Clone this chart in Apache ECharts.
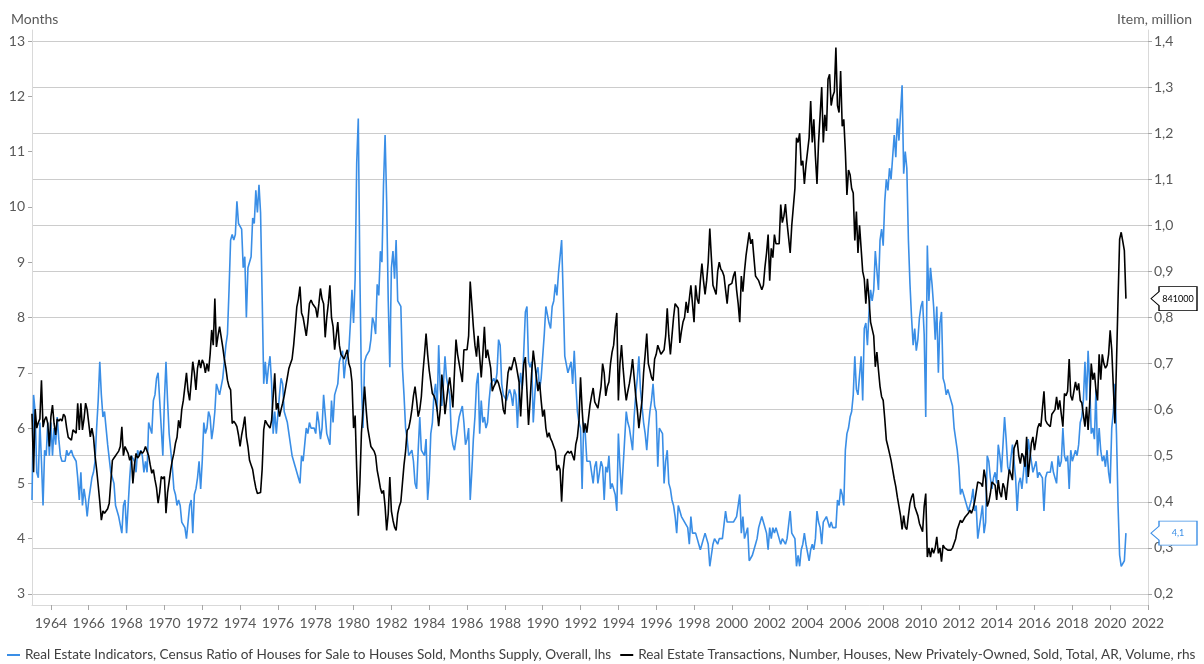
<!DOCTYPE html>
<html>
<head>
<meta charset="utf-8">
<title>New home sales and months supply</title>
<script src="https://cdn.jsdelivr.net/npm/echarts@6/dist/echarts.min.js"></script>
<style>
html, body { margin: 0; padding: 0; background: #fff; }
#chart { width: 1204px; height: 664px; }
</style>
</head>
<body>
<div id="chart"></div>
<script>
// monthly data, first point = Jan 1963
var startYear = 1963;
var supplyName = 'Real Estate Indicators, Census Ratio of Houses for Sale to Houses Sold, Months Supply, Overall, lhs';
var salesName = 'Real Estate Transactions, Number, Houses, New Privately-Owned, Sold, Total, AR, Volume, rhs';

// months supply (lhs)
var monthsSupply = [
    4.7, 6.6, 6.3, 5.2, 5.1, 6.1, 5.4, 4.6, 5.6, 5.5, 6.1, 5.5,
    6.1, 5.5, 6.0, 5.7, 6.2, 5.8, 5.5, 5.4, 5.4, 5.4, 5.6, 5.5,
    5.5, 5.6, 5.5, 5.5, 5.4, 5.1, 4.7, 5.2, 4.6, 4.9, 4.7, 4.4,
    4.7, 4.9, 5.1, 5.2, 5.4, 6.0, 6.5, 7.2, 6.6, 6.2, 6.3, 6.0,
    5.7, 5.7, 5.2, 5.1, 5.0, 4.6, 4.5, 4.4, 4.4, 4.1, 4.6, 4.7,
    4.1, 4.6, 5.1, 5.5, 5.5, 5.4, 5.2, 5.6, 5.5, 5.6, 5.5, 5.2,
    5.4, 5.2, 6.1, 6.1, 5.9, 6.5, 6.6, 6.9, 7.0, 6.5, 6.0, 5.5,
    6.5, 7.2, 6.5, 5.9, 5.6, 5.3, 4.9, 4.8, 4.6, 4.7, 4.6, 4.3,
    4.3, 4.2, 4.0, 4.3, 4.6, 4.7, 4.1, 4.8, 4.9, 5.1, 5.4, 4.9,
    5.4, 6.1, 5.9, 6.0, 6.3, 6.2, 5.8, 6.0, 6.3, 6.8, 6.8, 6.6,
    6.6, 6.9, 6.9, 7.5, 7.7, 8.5, 9.4, 9.5, 9.4, 9.5, 10.1, 9.7,
    9.7, 9.6, 8.9, 9.1, 8.0, 8.9, 8.9, 9.1, 9.8, 9.7, 10.3, 9.9,
    10.4, 9.9, 8.4, 6.8, 7.2, 6.8, 7.1, 7.3, 6.8, 5.9, 6.3, 5.9,
    5.9, 6.6, 6.9, 6.8, 6.3, 6.2, 6.1, 5.9, 5.7, 5.5, 5.4, 5.3,
    5.2, 5.1, 5.0, 5.5, 5.4, 5.7, 6.0, 5.9, 6.1, 6.0, 6.0, 6.0,
    5.9, 6.3, 6.1, 5.8, 6.0, 6.6, 6.6, 5.9, 5.8, 5.7, 6.5, 6.1,
    6.6, 6.7, 6.8, 7.2, 7.3, 7.4, 6.9, 7.2, 7.3, 7.4, 7.9, 8.5,
    7.9, 8.7, 10.8, 11.6, 8.8, 6.8, 6.0, 7.2, 7.3, 7.3, 7.4, 7.6,
    8.0, 7.9, 7.7, 8.6, 8.4, 9.2, 9.0, 10.4, 11.3, 10.1, 8.3, 7.1,
    8.9, 9.2, 8.7, 9.4, 8.3, 8.3, 8.2, 7.1, 6.6, 6.0, 5.8, 5.5,
    5.5, 5.6, 5.4, 5.0, 4.9, 5.6, 6.2, 5.6, 5.6, 5.5, 5.8, 4.7,
    5.1, 5.9, 6.1, 6.6, 6.8, 6.3, 7.5, 6.7, 6.4, 6.8, 7.3, 6.9,
    6.9, 6.6, 5.9, 5.7, 5.6, 5.8, 6.0, 6.2, 6.2, 6.4, 6.1, 5.7,
    5.8, 6.0, 4.7, 5.2, 5.8, 6.2, 6.8, 7.0, 5.9, 6.5, 6.1, 6.2,
    6.0, 6.1, 6.5, 6.8, 6.8, 6.9, 6.8, 7.0, 7.6, 7.5, 6.8, 6.6,
    6.6, 6.5, 6.6, 6.7, 6.6, 6.4, 6.7, 6.6, 6.0, 6.7, 7.0, 6.7,
    6.7, 8.1, 8.2, 7.2, 7.1, 7.2, 6.1, 6.6, 7.0, 7.1, 6.7, 6.9,
    7.3, 7.7, 8.2, 8.2, 7.9, 7.8, 8.2, 8.3, 8.6, 8.4, 8.8, 8.8,
    9.4, 8.4, 7.3, 7.3, 7.0, 7.0, 7.2, 6.8, 7.4, 6.8, 6.3, 6.1,
    6.0, 4.9, 6.1, 5.9, 5.4, 5.4, 5.4, 5.2, 5.0, 5.3, 5.4, 5.0,
    5.2, 5.4, 5.3, 4.7, 5.3, 5.2, 5.5, 4.9, 5.0, 5.0, 4.8, 4.5,
    5.9, 5.3, 4.8, 5.3, 5.8, 6.3, 6.1, 6.0, 5.8, 5.6, 6.2, 6.6,
    6.9, 7.3, 6.7, 6.4, 6.1, 5.9, 5.6, 6.0, 6.3, 6.5, 6.8, 6.4,
    6.3, 5.3, 6.0, 6.0, 5.9, 5.0, 5.4, 5.6, 5.0, 4.9, 4.7, 4.6,
    4.4, 4.1, 4.6, 4.5, 4.4, 4.4, 4.3, 4.3, 4.2, 3.9, 4.4, 4.1,
    4.1, 4.1, 4.0, 3.9, 3.8, 3.9, 4.0, 4.1, 4.0, 3.9, 3.5, 3.7,
    3.9, 4.0, 4.0, 3.9, 4.0, 4.0, 4.0, 4.0, 4.5, 4.3, 4.3, 4.3,
    4.3, 4.3, 4.3, 4.4, 4.4, 4.8, 4.1, 4.4, 4.0, 4.1, 4.2, 3.6,
    3.6, 3.7, 3.8, 3.9, 4.0, 4.2, 4.3, 4.4, 4.3, 4.3, 4.1, 3.8,
    4.2, 4.0, 4.2, 4.1, 4.2, 4.1, 4.0, 3.9, 4.0, 4.0, 3.9, 4.0,
    4.0, 4.5, 4.1, 4.1, 4.0, 3.5, 3.7, 3.5, 3.8, 3.9, 4.1, 3.9,
    3.9, 3.6, 3.8, 3.9, 3.8, 4.0, 4.5, 4.3, 4.2, 3.9, 4.3, 4.3,
    4.4, 4.3, 4.2, 4.3, 4.2, 4.2, 4.2, 4.7, 4.6, 4.9, 4.8, 4.6,
    5.6, 5.9, 6.0, 6.2, 6.3, 6.6, 7.3, 6.7, 6.6, 6.6, 7.3, 6.5,
    7.8, 7.9, 7.5, 8.1, 8.5, 8.3, 8.5, 9.2, 9.2, 8.5, 9.4, 9.6,
    9.3, 10.1, 10.5, 10.3, 10.7, 10.5, 10.5, 11.3, 10.9, 11.6, 11.2, 11.2,
    12.2, 10.6, 11.0, 10.7, 9.4, 8.6, 8.0, 7.5, 7.8, 7.4, 7.6, 8.0,
    8.2, 8.3, 7.7, 6.2, 9.3, 8.3, 8.9, 8.6, 8.2, 7.6, 8.2, 7.0,
    7.9, 8.1, 6.9, 6.8, 6.6, 6.7, 6.7, 6.5, 6.4, 6.0, 5.8, 5.6,
    5.3, 4.8, 4.9, 4.9, 4.7, 4.7, 4.5, 4.5, 4.7, 4.9, 4.5, 4.6,
    4.0, 4.2, 4.4, 4.6, 4.1, 4.3, 5.5, 5.4, 5.1, 4.9, 5.1, 5.2,
    5.0, 5.7, 5.5, 5.2, 5.7, 6.2, 5.8, 5.3, 5.2, 5.2, 5.7, 5.4,
    5.1, 4.5, 5.0, 5.1, 4.9, 5.2, 5.5, 5.0, 5.8, 5.6, 5.4, 5.2,
    5.3, 5.4, 5.1, 5.2, 5.2, 5.1, 4.5, 5.1, 5.2, 5.2, 5.2, 5.4,
    5.2, 5.2, 5.0, 5.5, 5.3, 5.4, 6.0, 5.5, 5.4, 5.5, 4.9, 5.6,
    5.4, 5.5, 5.6, 5.5, 5.7, 6.1, 6.2, 6.5, 7.2, 6.5, 7.4, 6.8,
    5.9, 6.0, 5.8, 6.7, 5.5, 6.0, 5.6, 5.4, 5.5, 5.3, 5.6, 5.2,
    5.0, 6.0, 6.3, 6.8, 5.9, 4.6, 3.7, 3.5, 3.5, 3.6, 4.1
];

// new houses sold, annual rate, thousands (rhs, shown in millions)
var salesK = [
    591, 464, 601, 560, 572, 580, 664, 562, 578, 585, 570, 520,
    585, 610, 570, 545, 580, 575, 580, 575, 590, 585, 560, 540,
    540, 534, 556, 560, 549, 614, 556, 614, 556, 580, 614, 600,
    600, 541, 560, 541, 500, 470, 436, 400, 360, 380, 375, 380,
    385, 397, 400, 490, 495, 500, 505, 510, 520, 563, 500, 520,
    520, 505, 490, 500, 440, 480, 505, 495, 500, 510, 505, 510,
    520, 520, 500, 480, 462, 470, 448, 430, 397, 420, 455, 450,
    455, 375, 420, 444, 470, 490, 505, 527, 540, 577, 560, 600,
    620, 650, 680, 640, 620, 660, 704, 680, 643, 690, 708, 690,
    708, 700, 680, 700, 683, 720, 773, 740, 841, 736, 760, 780,
    780, 736, 710, 690, 664, 650, 643, 570, 575, 570, 563, 545,
    520, 545, 563, 585, 541, 520, 490, 480, 470, 448, 430, 418,
    415, 420, 470, 556, 577, 570, 570, 560, 577, 580, 679, 600,
    614, 585, 600, 614, 630, 650, 670, 690, 700, 710, 740, 780,
    823, 840, 867, 810, 800, 800, 760, 790, 830, 838, 830, 834,
    820, 800, 830, 863, 840, 830, 757, 800, 830, 870, 800, 780,
    730, 760, 790, 740, 720, 715, 710, 720, 730, 700, 690, 660,
    560, 587, 470, 370, 440, 550, 600, 650, 600, 560, 540, 520,
    515, 510, 500, 468, 450, 430, 418, 425, 390, 338, 374, 454,
    380, 360, 345, 338, 374, 390, 400, 440, 480, 510, 555, 560,
    577, 600, 630, 650, 620, 585, 600, 628, 680, 720, 765, 720,
    685, 660, 635, 630, 620, 600, 564, 600, 676, 640, 590, 620,
    650, 670, 640, 605, 680, 752, 720, 700, 680, 660, 730, 730,
    730, 760, 878, 830, 780, 740, 715, 760, 760, 670, 720, 780,
    712, 730, 730, 690, 640, 650, 657, 665, 657, 657, 630, 600,
    590, 640, 680, 693, 686, 690, 714, 700, 696, 660, 585, 650,
    700, 714, 640, 567, 620, 680, 728, 700, 670, 640, 660, 620,
    585, 600, 560, 540, 550, 537, 530, 520, 510, 468, 480, 470,
    400, 470, 500, 505, 510, 505, 510, 500, 490, 525, 540, 575,
    670, 600, 550, 570, 550, 580, 610, 630, 647, 617, 620, 603,
    603, 650, 700, 680, 630, 650, 660, 700, 725, 740, 780, 810,
    620, 700, 740, 690, 650, 620, 640, 657, 680, 710, 670, 630,
    600, 560, 590, 620, 680, 720, 765, 700, 686, 670, 663, 710,
    720, 740, 730, 720, 720, 730, 760, 820, 760, 720, 760, 800,
    830, 825, 820, 745, 770, 790, 800, 834, 810, 810, 870, 830,
    790, 870, 840, 830, 880, 917, 880, 850, 880, 920, 993, 930,
    870, 860, 850, 900, 920, 905, 900, 890, 860, 830, 870, 874,
    874, 890, 900, 860, 830, 790, 890, 856, 900, 935, 960, 985,
    960, 970, 930, 890, 885, 880, 870, 860, 870, 910, 940, 980,
    880, 950, 930, 980, 960, 960, 960, 1045, 1006, 1020, 1046, 1006,
    1006, 940, 1000, 1000, 1080, 1190, 1180, 1200, 1130, 1140, 1090, 1130,
    1160, 1190, 1270, 1180, 1230, 1150, 1090, 1180, 1240, 1300, 1180, 1240,
    1205, 1317, 1328, 1260, 1280, 1290, 1386, 1260, 1245, 1335, 1215, 1230,
    1160, 1066, 1120, 1110, 1080, 1070, 967, 1030, 940, 1000, 1000, 900,
    884, 830, 884, 840, 790, 787, 760, 693, 725, 686, 650, 628,
    620, 580, 534, 520, 505, 490, 470, 450, 433, 410, 390, 370,
    340, 370, 345, 340, 370, 397, 410, 418, 390, 390, 370, 353,
    350, 335, 390, 418, 280, 300, 280, 300, 288, 300, 324, 288,
    300, 270, 306, 300, 298, 295, 298, 295, 300, 310, 320, 340,
    340, 360, 355, 357, 367, 370, 375, 382, 375, 385, 400, 400,
    443, 447, 440, 433, 470, 450, 390, 400, 418, 443, 440, 436,
    404, 447, 420, 410, 440, 430, 404, 440, 470, 460, 447, 516,
    516, 534, 500, 483, 505, 498, 476, 541, 454, 490, 527, 541,
    512, 535, 560, 570, 563, 564, 640, 577, 570, 570, 563, 590,
    590, 600, 628, 600, 620, 590, 563, 635, 630, 640, 710, 630,
    620, 640, 660, 642, 657, 620, 615, 613, 563, 606, 556, 613,
    700, 665, 680, 642, 620, 720, 665, 720, 700, 690, 696, 720,
    772, 730, 650, 570, 700, 840, 970, 985, 965, 945, 841
];

var supplyData = monthsSupply.map(function (v, i) { return [startYear + i / 12, v]; });
var salesData = salesK.map(function (v, i) { return [startYear + i / 12, v / 1000]; });
var lastSupply = monthsSupply[monthsSupply.length - 1];
var lastSales = salesK[salesK.length - 1];

var font = 'Lato, "Liberation Sans", sans-serif';
var labelColor = '#595959';
// value tag with a small arrow pointing at the axis
var calloutPath = 'path://M0,12L8,5L8,0L46,0L46,24L8,24L8,19Z';

var chart = echarts.init(document.getElementById('chart'));

var option = {
    animation: false,
    backgroundColor: '#fff',
    textStyle: { fontFamily: font },
    title: [
        { text: 'Months', left: 6, top: 7,
          textStyle: { fontSize: 14, fontWeight: 'normal', color: labelColor, fontFamily: font } },
        { text: 'Item, million', right: 7, top: 7,
          textStyle: { fontSize: 14, fontWeight: 'normal', color: labelColor, fontFamily: font } }
    ],
    legend: {
        left: 7,
        top: 648,
        width: 1200,
        padding: 0,
        icon: 'rect',
        itemWidth: 13,
        itemHeight: 2,
        itemGap: 9,
        textStyle: { fontSize: 13.6, color: '#404040', fontFamily: font },
        data: [supplyName, salesName]
    },
    grid: { left: 32, right: 56, top: 30, bottom: 59 },
    xAxis: {
        type: 'value',
        min: 1963,
        max: 2022,
        minInterval: 2,
        maxInterval: 2,
        axisLine: { lineStyle: { color: '#d9d9d9' } },
        axisTick: { length: 5, lineStyle: { color: '#a6a6a6' } },
        axisLabel: {
            margin: 11, fontSize: 14, color: labelColor, fontFamily: font,
            showMinLabel: false,
            formatter: function (v) { return String(Math.round(v)); }
        },
        splitLine: { show: false }
    },
    yAxis: [
        {
            type: 'value',
            position: 'left',
            min: 2.8,
            max: 13.2,
            minInterval: 1,
            maxInterval: 1,
            axisLine: { show: true, lineStyle: { color: '#d9d9d9' } },
            axisTick: { show: true, length: 4, lineStyle: { color: '#a6a6a6' } },
            axisLabel: {
                margin: 7, fontSize: 14, color: labelColor, fontFamily: font,
                showMinLabel: false, showMaxLabel: false,
                formatter: function (v) { return String(Math.round(v)); }
            },
            splitLine: { show: false }
        },
        {
            type: 'value',
            position: 'right',
            min: 0.176,
            max: 1.424,
            minInterval: 0.1,
            maxInterval: 0.1,
            axisLine: { show: true, lineStyle: { color: '#d9d9d9' } },
            axisTick: { show: true, length: 4, lineStyle: { color: '#a6a6a6' } },
            axisLabel: {
                margin: 6, fontSize: 14, color: labelColor, fontFamily: font,
                showMinLabel: false, showMaxLabel: false,
                formatter: function (v) { return v.toFixed(1).replace('.', ','); }
            },
            splitLine: { show: true, showMinLine: false, showMaxLine: false,
                         lineStyle: { color: '#cccccc', width: 1 } }
        }
    ],
    series: [
        {
            name: supplyName,
            type: 'line',
            yAxisIndex: 0,
            data: supplyData,
            showSymbol: false,
            clip: false,
            color: '#3a8ee6',
            lineStyle: { width: 1.6, color: '#3a8ee6' },
            markPoint: {
                silent: true,
                symbol: calloutPath,
                symbolSize: [46, 24],
                symbolOffset: [26, 0],
                itemStyle: { color: '#fff', borderColor: '#3a8ee6', borderWidth: 1 },
                label: {
                    show: true, position: 'inside', offset: [4, 0],
                    color: '#3a8ee6', fontSize: 9, fontFamily: font,
                    formatter: String(lastSupply).replace('.', ',')
                },
                data: [{ coord: [2022, lastSupply] }]
            }
        },
        {
            name: salesName,
            type: 'line',
            yAxisIndex: 1,
            data: salesData,
            showSymbol: false,
            clip: false,
            color: '#000',
            lineStyle: { width: 1.6, color: '#000' },
            markPoint: {
                silent: true,
                symbol: calloutPath,
                symbolSize: [46, 24],
                symbolOffset: [26, 0],
                itemStyle: { color: '#fff', borderColor: '#000', borderWidth: 1 },
                label: {
                    show: true, position: 'inside', offset: [4, 0],
                    color: '#000', fontSize: 9, fontFamily: font,
                    formatter: String(lastSales * 1000)
                },
                data: [{ coord: [2022, lastSales / 1000] }]
            }
        }
    ]
};

chart.setOption(option);
</script>
</body>
</html>
